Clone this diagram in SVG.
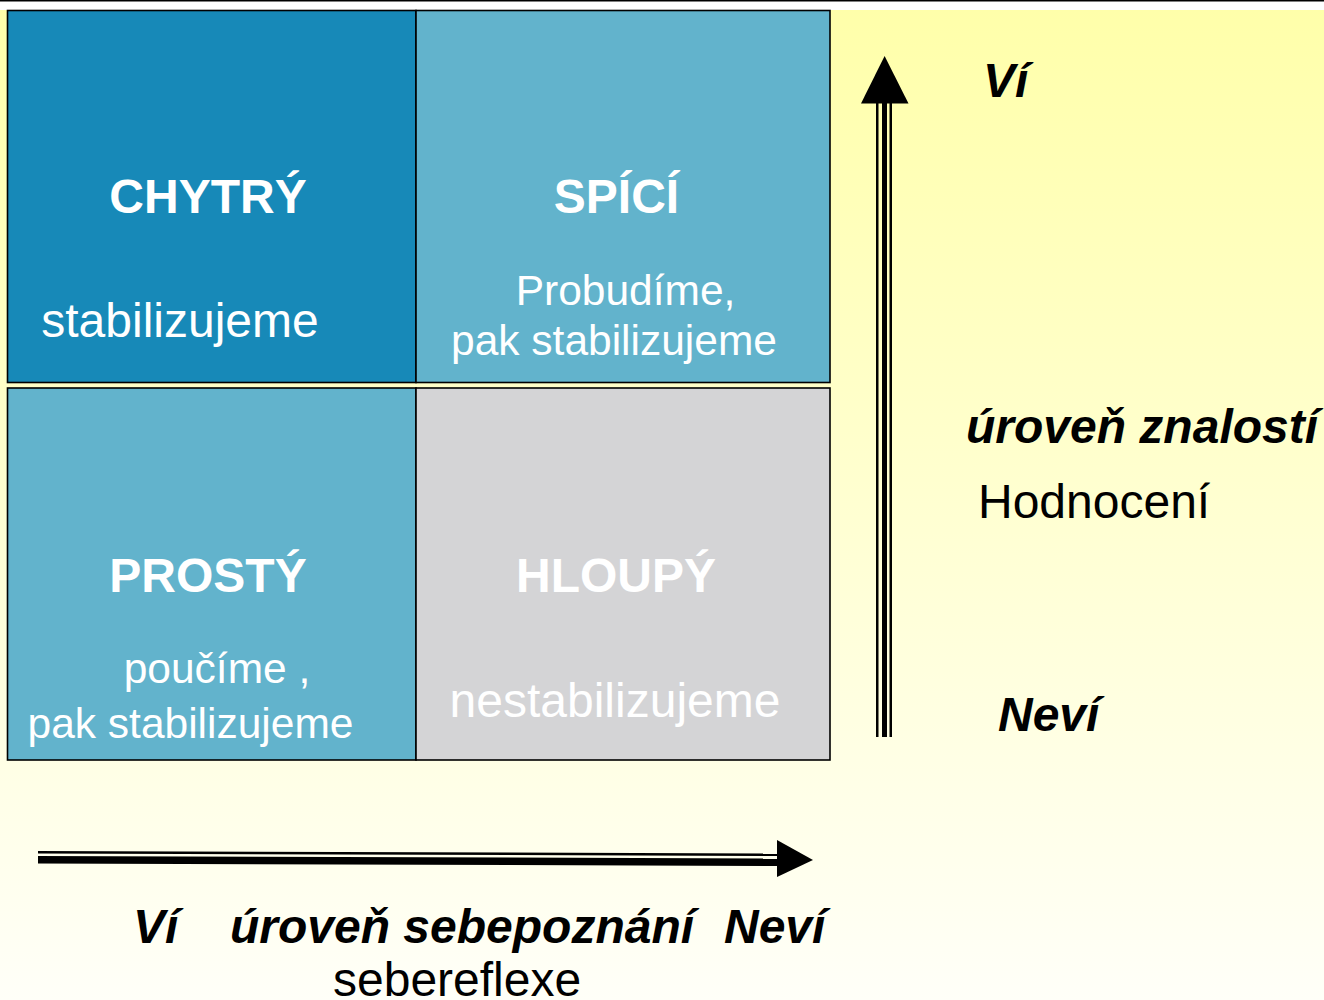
<svg xmlns="http://www.w3.org/2000/svg" width="1324" height="1000" viewBox="0 0 1324 1000">
  <defs>
    <linearGradient id="bg" x1="0" y1="10" x2="0" y2="1000" gradientUnits="userSpaceOnUse">
      <stop offset="0" stop-color="#FFFFAA"/>
      <stop offset="1" stop-color="#FFFFF8"/>
    </linearGradient>
  </defs>
  <style>
    .box { stroke: #000; stroke-width: 1.6; }
    .title { font-family: "Liberation Sans", Arial, sans-serif; font-weight: bold; font-size: 48px; fill: #FFFFFF; text-anchor: middle; }
    .sub { font-family: "Liberation Sans", Arial, sans-serif; font-size: 42.5px; fill: #FFFFFF; text-anchor: middle; }
    .subl { font-family: "Liberation Sans", Arial, sans-serif; font-size: 48px; fill: #FFFFFF; text-anchor: middle; }
    .axisb { font-family: "Liberation Sans", Arial, sans-serif; font-weight: bold; font-style: italic; font-size: 48px; fill: #000; }
    .axis { font-family: "Liberation Sans", Arial, sans-serif; font-size: 48px; fill: #000; }
    .ink { fill: #000; }
  </style>
  <rect x="0" y="0" width="1324" height="1000" fill="#FFFFFF"/>
  <rect x="0" y="10" width="1324" height="990" fill="url(#bg)"/>
  <rect x="0" y="0" width="1324" height="1.5" fill="#000"/>

  <g id="chytry">
    <rect class="box" x="7.5" y="10.5" width="408.5" height="372" fill="#1789B8"/>
    <text class="title" x="208" y="213">CHYTRÝ</text>
    <text class="subl" x="180" y="337">stabilizujeme</text>
  </g>
  <g id="spici">
    <rect class="box" x="416" y="10.5" width="414" height="372" fill="#62B3CC"/>
    <text class="title" x="616.5" y="213">SPÍCÍ</text>
    <text class="sub" x="625.5" y="305">Probudíme,</text>
    <text class="sub" x="614" y="355">pak stabilizujeme</text>
  </g>
  <g id="prosty">
    <rect class="box" x="7.5" y="388" width="408.5" height="372" fill="#62B3CC"/>
    <text class="title" x="208" y="592">PROSTÝ</text>
    <text class="sub" x="217" y="683">poučíme ,</text>
    <text class="sub" x="190.5" y="738">pak stabilizujeme</text>
  </g>
  <g id="hloupy">
    <rect class="box" x="416" y="388" width="414" height="372" fill="#D4D4D6"/>
    <text class="title" x="616" y="592">HLOUPÝ</text>
    <text class="subl" x="615" y="717">nestabilizujeme</text>
  </g>

  <g id="connectors">
    <g id="vertical-arrow">
      <rect class="ink" x="876" y="103" width="2.5" height="634"/>
      <rect class="ink" x="882" y="103" width="5" height="634"/>
      <rect class="ink" x="889.5" y="103" width="2.5" height="634"/>
      <polygon class="ink" points="884.6,56 861,103.5 908.5,103.5"/>
    </g>
    <g id="horizontal-arrow">
      <polygon class="ink" points="38,851 778,853.5 778,856 38,853.4"/>
      <polygon class="ink" points="38,856 778,858.5 778,866 38,863.5"/>
      <polygon class="ink" points="777,840 813,860 777,877"/>
    </g>
  </g>

  <g id="labels">
    <text class="axisb" x="983" y="97">Ví</text>
    <text class="axisb" x="966" y="443">úroveň znalostí</text>
    <text class="axis" x="978" y="518">Hodnocení</text>
    <text class="axisb" x="998" y="731">Neví</text>
    <text class="axisb" x="133" y="943">Ví</text>
    <text class="axisb" x="230" y="943">úroveň sebepoznání</text>
    <text class="axisb" x="724" y="943">Neví</text>
    <text class="axis" x="333" y="996">sebereflexe</text>
  </g>
</svg>
